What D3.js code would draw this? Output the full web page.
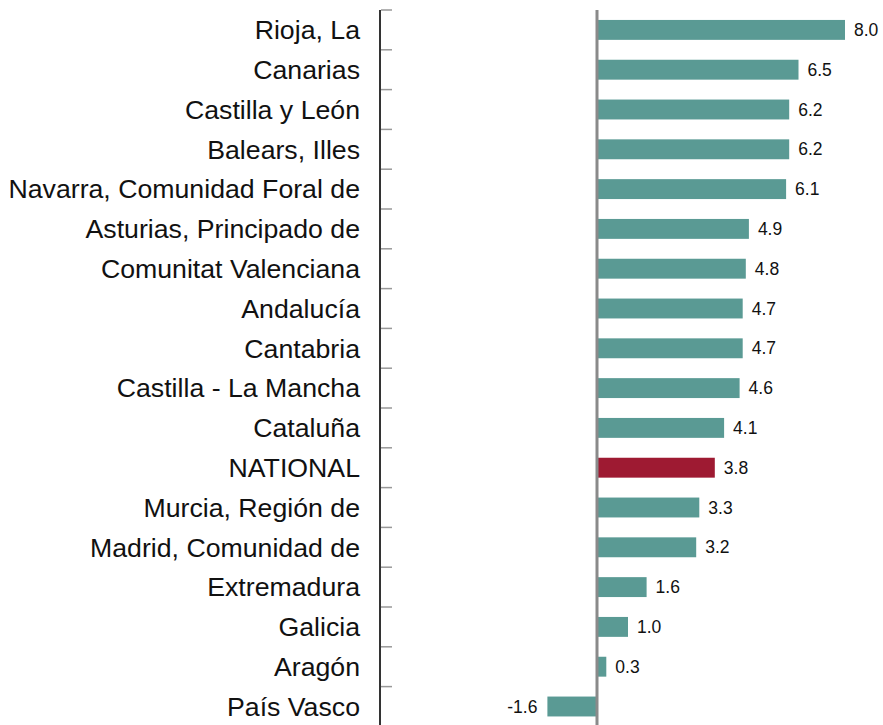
<!DOCTYPE html>
<html>
<head>
<meta charset="utf-8">
<style>
body { margin: 0; background: #fff; }
.cat { font: 26.7px "Liberation Sans", Arial, sans-serif; fill: #111; text-anchor: end; }
.val { font: 17.5px "Liberation Sans", Arial, sans-serif; fill: #111; }
</style>
</head>
<body>
<svg width="883" height="725"></svg>
<script src="https://cdnjs.cloudflare.com/ajax/libs/d3/7.8.5/d3.min.js"></script>
<script>
// regions, top to bottom
var regions = ["Rioja, La", "Canarias", "Castilla y León", "Balears, Illes",
  "Navarra, Comunidad Foral de", "Asturias, Principado de", "Comunitat Valenciana",
  "Andalucía", "Cantabria", "Castilla - La Mancha", "Cataluña", "NATIONAL",
  "Murcia, Región de", "Madrid, Comunidad de", "Extremadura", "Galicia", "Aragón", "País Vasco"];
var values = [8.0, 6.5, 6.2, 6.2, 6.1, 4.9, 4.8, 4.7, 4.7, 4.6, 4.1, 3.8, 3.3, 3.2, 1.6, 1.0, 0.3, -1.6];
var highlight = "NATIONAL";

var svg = d3.select("svg");

var x = d3.scaleLinear()
  .domain([0, 8])
  .range([597, 845]);

var y = d3.scaleBand()
  .domain(regions)
  .range([10, 10 + 18 * 39.8])
  .paddingInner(0.5)
  .paddingOuter(0.25);

var data = regions.map(function(r, i) { return {name: r, value: values[i]}; });

// left axis line + ticks at band edges
svg.append("line")
  .attr("x1", 380).attr("x2", 380)
  .attr("y1", 10).attr("y2", 725)
  .attr("stroke", "#333").attr("stroke-width", 2);

svg.selectAll(".tick")
  .data(regions)
  .enter().append("line")
  .attr("class", "tick")
  .attr("x1", 381).attr("x2", 392)
  .attr("y1", function(d) { return y(d) - y.step() * 0.25; })
  .attr("y2", function(d) { return y(d) - y.step() * 0.25; })
  .attr("stroke", "#999").attr("stroke-width", 1.5);

// bars
svg.selectAll(".bar")
  .data(data)
  .enter().append("rect")
  .attr("class", "bar")
  .attr("x", function(d) { return x(Math.min(0, d.value)); })
  .attr("y", function(d) { return y(d.name); })
  .attr("width", function(d) { return Math.abs(x(d.value) - x(0)); })
  .attr("height", y.bandwidth())
  .attr("fill", function(d) { return d.name == highlight ? "#9e1a32" : "#5a9a94"; });

// zero line
svg.append("line")
  .attr("x1", x(0)).attr("x2", x(0))
  .attr("y1", 10).attr("y2", 725)
  .attr("stroke", "#8a8a8a").attr("stroke-width", 3);

// value labels
svg.selectAll(".val")
  .data(data)
  .enter().append("text")
  .attr("class", "val")
  .attr("x", function(d) { return d.value < 0 ? x(d.value) - 10 : x(d.value) + 9; })
  .attr("y", function(d) { return y(d.name) + y.bandwidth() / 2; })
  .attr("dy", "0.35em")
  .attr("text-anchor", function(d) { return d.value < 0 ? "end" : "start"; })
  .text(function(d) { return d.value.toFixed(1); });

// category labels
svg.selectAll(".cat")
  .data(regions)
  .enter().append("text")
  .attr("class", "cat")
  .attr("x", 360)
  .attr("y", function(d) { return y(d) + y.bandwidth() / 2; })
  .attr("dy", "0.35em")
  .text(function(d) { return d; });
</script>
</body>
</html>
